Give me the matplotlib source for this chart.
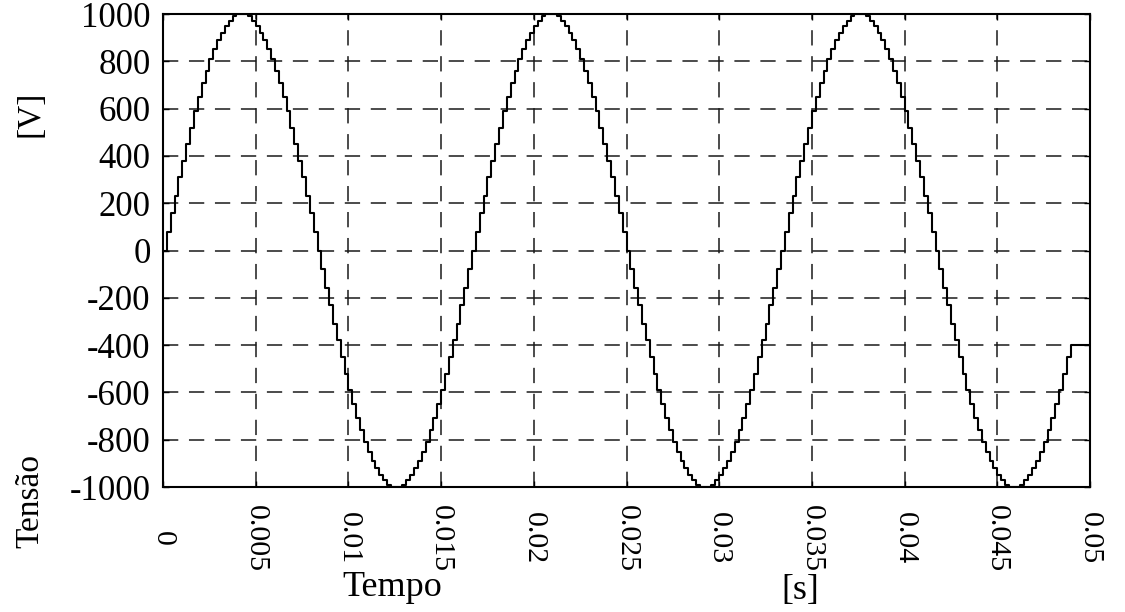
import numpy as np
import matplotlib
matplotlib.use("Agg")
import matplotlib.pyplot as plt

# Sampled inverter output voltage (V), one sample every 1/4800 s, held between samples
volts = [
    0, 80, 160, 230, 310, 380, 450, 520, 590, 650, 710, 760, 810, 850, 890, 920, 950, 970, 990, 1000,
    1000, 1000, 990, 970, 950, 920, 890, 850, 810, 760, 710, 650, 590, 520, 450, 380, 310, 230, 160, 80,
    0, -80, -160, -230, -310, -380, -450, -520, -590, -650, -710, -760, -810, -850, -890, -920, -950, -970, -990, -1000,
    -1000, -1000, -990, -970, -950, -920, -890, -850, -810, -760, -710, -650, -590, -520, -450, -380, -310, -230, -160, -80,
    0, 80, 160, 230, 310, 380, 450, 520, 590, 650, 710, 760, 810, 850, 890, 920, 950, 970, 990, 1000,
    1000, 1000, 990, 970, 950, 920, 890, 850, 810, 760, 710, 650, 590, 520, 450, 380, 310, 230, 160, 80,
    0, -80, -160, -230, -310, -380, -450, -520, -590, -650, -710, -760, -810, -850, -890, -920, -950, -970, -990, -1000,
    -1000, -1000, -990, -970, -950, -920, -890, -850, -810, -760, -710, -650, -590, -520, -450, -380, -310, -230, -160, -80,
    0, 80, 160, 230, 310, 380, 450, 520, 590, 650, 710, 760, 810, 850, 890, 920, 950, 970, 990, 1000,
    1000, 1000, 990, 970, 950, 920, 890, 850, 810, 760, 710, 650, 590, 520, 450, 380, 310, 230, 160, 80,
    0, -80, -160, -230, -310, -380, -450, -520, -590, -650, -710, -760, -810, -850, -890, -920, -950, -970, -990, -1000,
    -1000, -1000, -990, -970, -950, -920, -890, -850, -810, -760, -710, -650, -590, -520, -450, -400,
]
sample_period = 1 / 4800
t_end = 0.05

x_ticks = [0, 0.005, 0.01, 0.015, 0.02, 0.025, 0.03, 0.035, 0.04, 0.045, 0.05]
x_tick_labels = ["0", "0.005", "0.01", "0.015", "0.02", "0.025", "0.03", "0.035", "0.04", "0.045", "0.05"]
y_ticks = [-1000, -800, -600, -400, -200, 0, 200, 400, 600, 800, 1000]
y_tick_labels = ["-1000", "-800", "-600", "-400", "-200", "0", "200", "400", "600", "800", "1000"]

t = np.arange(len(volts)) * sample_period
t = np.append(t, t_end)
v = np.append(volts, volts[-1])

plt.rcParams["font.family"] = ["Liberation Serif", "DejaVu Serif"]

fig = plt.figure(figsize=(11.25, 6.12), dpi=100)
ax = fig.add_axes([0.1449, 0.2042, 0.8240, 0.7729])

ax.plot(t, v, drawstyle="steps-post", color="black", lw=1.5, zorder=3)

ax.set_xlim(0, 0.05)
ax.set_ylim(-1000, 1000)
ax.set_xticks(x_ticks)
ax.set_xticklabels(x_tick_labels, rotation=270, fontsize=21.5, va="center")
ax.set_yticks(y_ticks)
ax.set_yticklabels(y_tick_labels, fontsize=25)

ax.grid(True, color="#1a1a1a", lw=1.1, linestyle=(0, (10, 7)))
ax.tick_params(axis="both", direction="in", length=4, width=1, top=True, right=True, colors="black")
ax.tick_params(axis="x", pad=37)
ax.tick_params(axis="y", pad=9)
for s in ax.spines.values():
    s.set_linewidth(1.5)
    s.set_color("black")

ax.text(0.247, -0.213, "Tempo", transform=ax.transAxes, ha="center", va="center", fontsize=26)
ax.text(0.687, -0.218, "[s]", transform=ax.transAxes, ha="center", va="center", fontsize=26)
ax.text(-0.1435, -0.03, "Tensão", transform=ax.transAxes, ha="center", va="center", rotation=90, fontsize=24)
ax.text(-0.1435, 0.789, "[V]", transform=ax.transAxes, ha="center", va="center", rotation=90, fontsize=24)

fig.savefig("out.png", dpi=100)
